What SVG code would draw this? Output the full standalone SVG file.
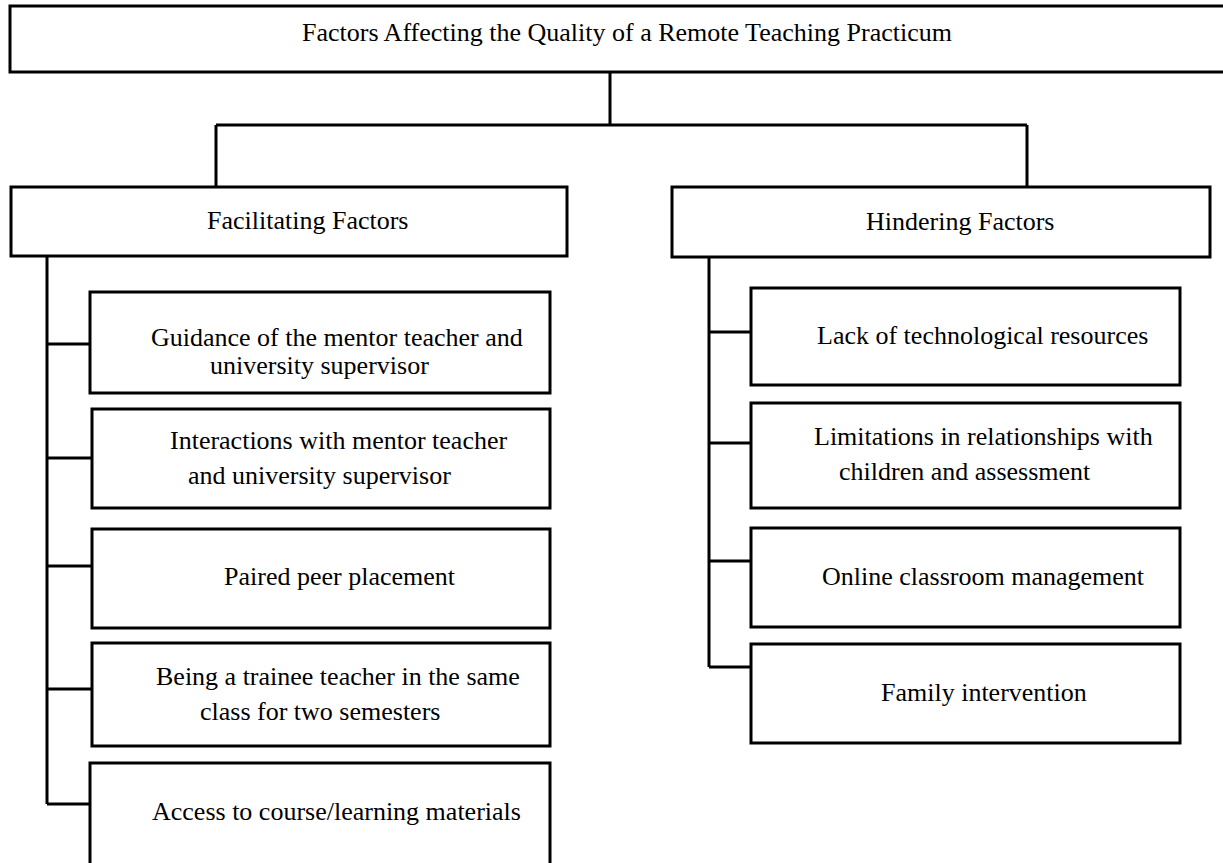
<svg xmlns="http://www.w3.org/2000/svg" width="1223" height="863" viewBox="0 0 1223 863">
<style>
.box{fill:#fff;stroke:#000;stroke-width:3}
.ln{fill:none;stroke:#000;stroke-width:3}
text{font-family:"Liberation Serif","Times New Roman",serif;font-size:26px;fill:#000}
</style>
<rect width="1223" height="863" fill="#fff"/>
<g id="connectors">
<path class="ln" d="M610 72V125M216 125H1027M216 125V187M1027 125V187"/>
<path class="ln" d="M47 256V804M47 344H90M47 458H92M47 566H92M47 689H92M47 804H90"/>
<path class="ln" d="M709 257V667M709 332H751M709 443H751M709 561H751M709 667H751"/>
</g>
<g id="root"><rect class="box" x="10" y="6" width="1230" height="66"/><text x="302" y="41">Factors Affecting the Quality of a Remote Teaching Practicum</text></g>
<g id="facilitating"><rect class="box" x="11" y="187" width="556" height="69"/><text x="207" y="229">Facilitating Factors</text></g>
<g id="hindering"><rect class="box" x="672" y="187" width="538" height="70"/><text x="866" y="230">Hindering Factors</text></g>
<g id="f1"><rect class="box" x="90" y="292" width="460" height="101"/><text x="151" y="346">Guidance of the mentor teacher and</text><text x="210" y="374">university supervisor</text></g>
<g id="f2"><rect class="box" x="92" y="409" width="458" height="99"/><text x="170" y="449">Interactions with mentor teacher</text><text x="188" y="484">and university supervisor</text></g>
<g id="f3"><rect class="box" x="92" y="529" width="458" height="99"/><text x="224" y="585">Paired peer placement</text></g>
<g id="f4"><rect class="box" x="92" y="643" width="458" height="103"/><text x="156" y="685">Being a trainee teacher in the same</text><text x="200" y="720">class for two semesters</text></g>
<g id="f5"><rect class="box" x="90" y="763" width="460" height="120"/><text x="152" y="820">Access to course/learning materials</text></g>
<g id="h1"><rect class="box" x="751" y="288" width="429" height="97"/><text x="817" y="344">Lack of technological resources</text></g>
<g id="h2"><rect class="box" x="751" y="403" width="429" height="105"/><text x="814" y="445">Limitations in relationships with</text><text x="839" y="480">children and assessment</text></g>
<g id="h3"><rect class="box" x="751" y="528" width="429" height="99"/><text x="822" y="585">Online classroom management</text></g>
<g id="h4"><rect class="box" x="751" y="644" width="429" height="99"/><text x="881" y="701">Family intervention</text></g>
</svg>
